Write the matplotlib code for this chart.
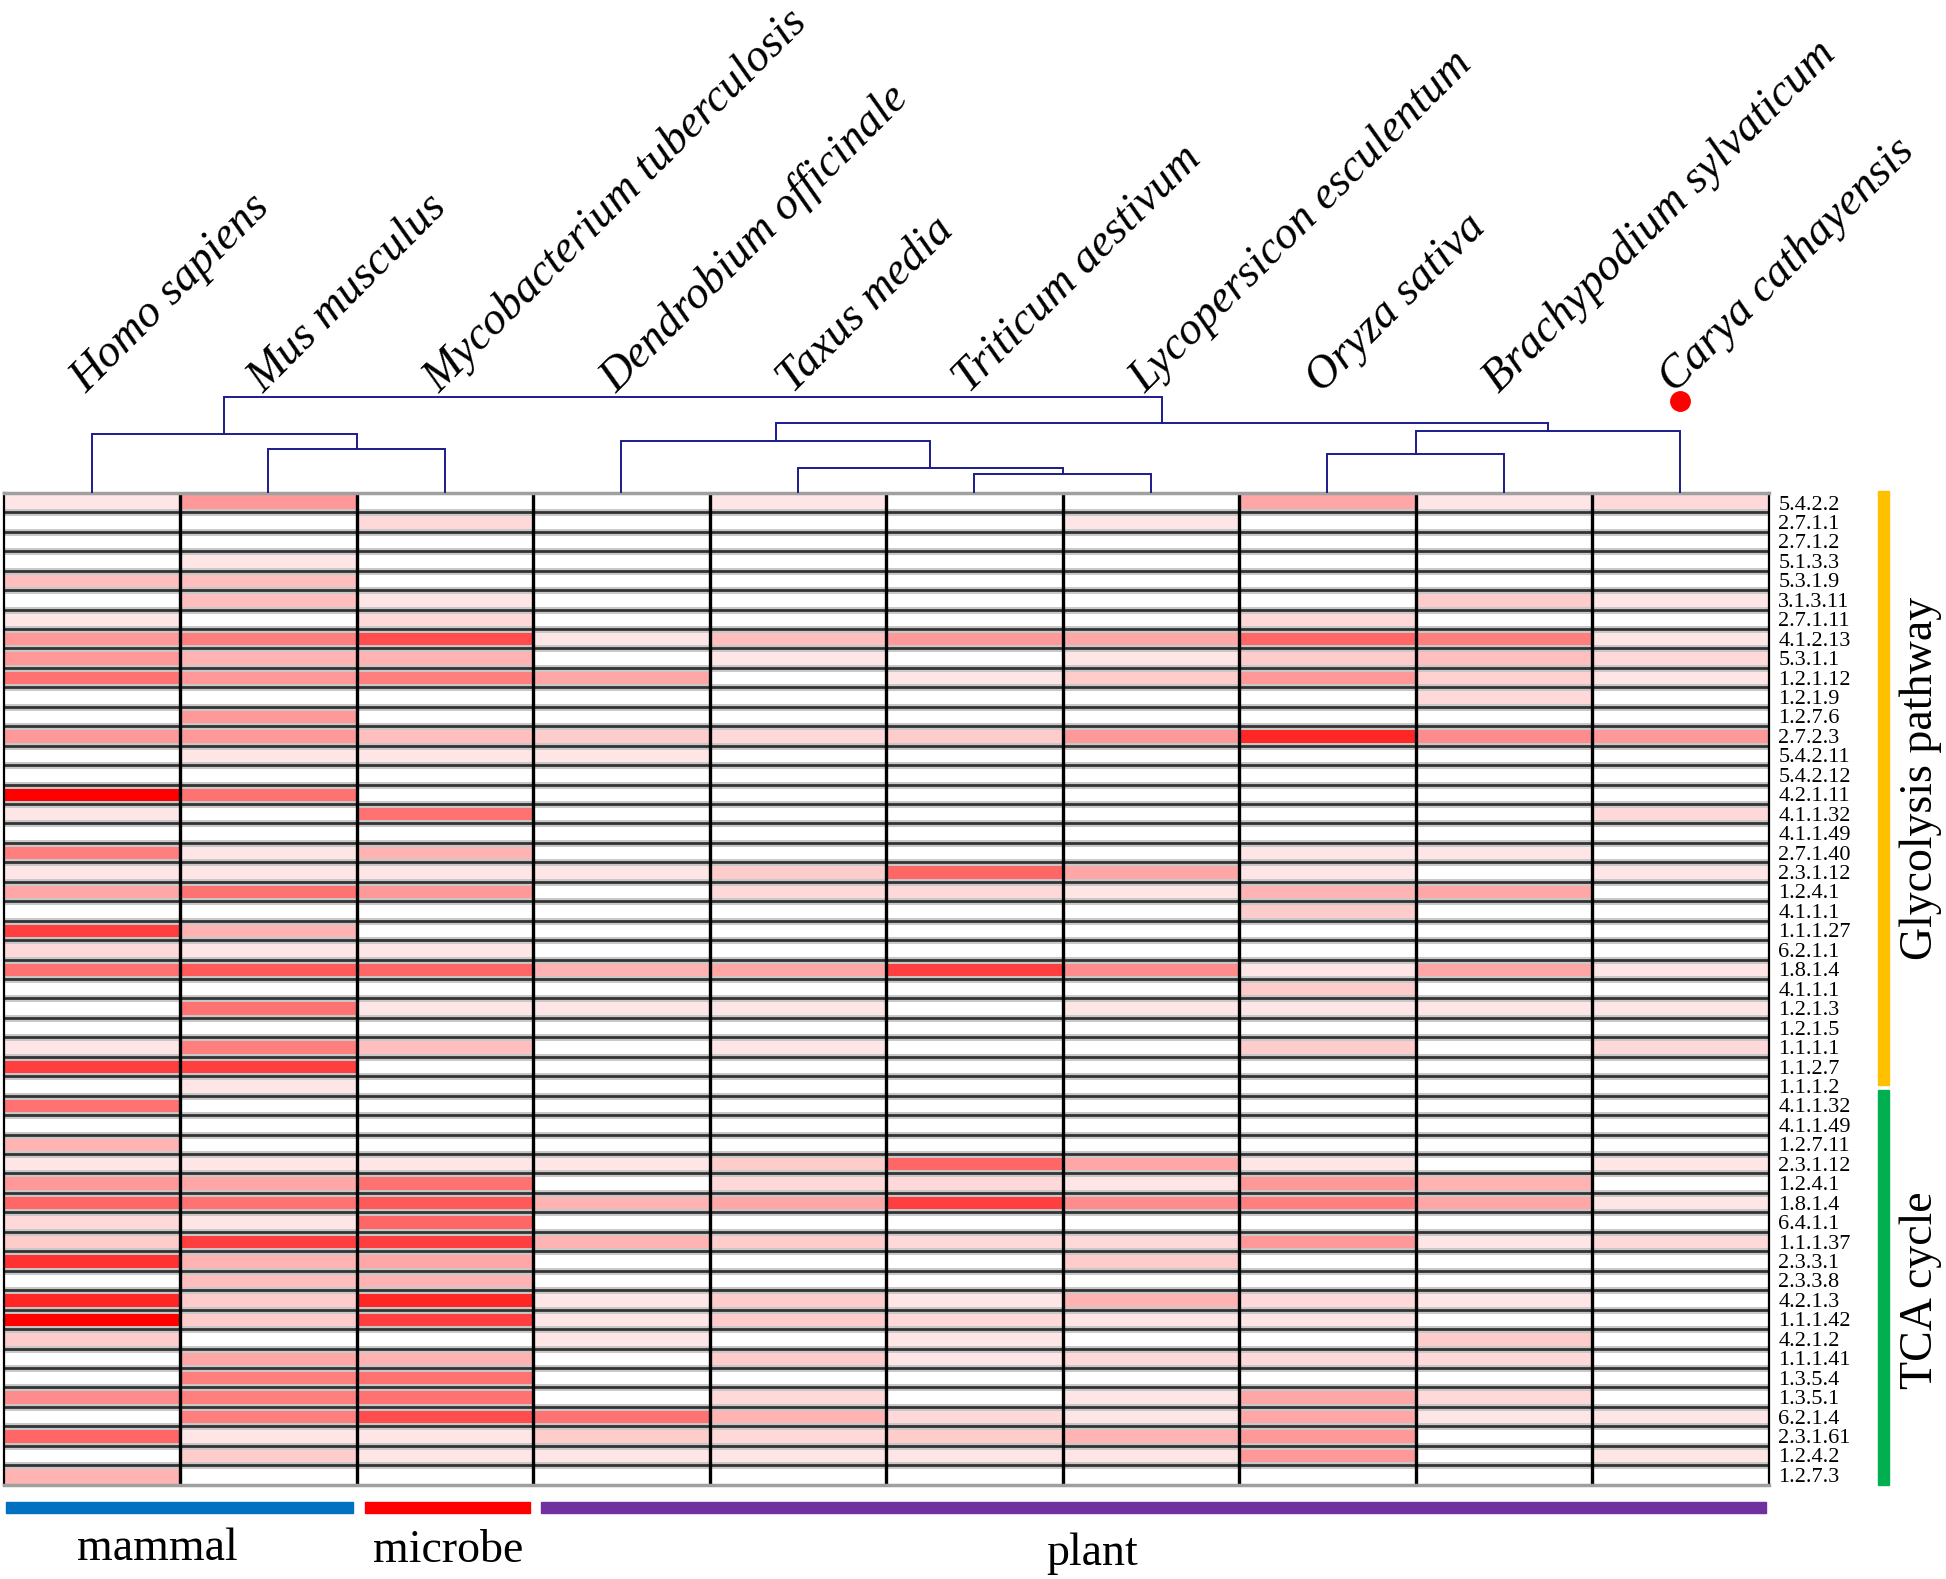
import numpy as np
import matplotlib.pyplot as plt
from matplotlib.colors import LinearSegmentedColormap
from matplotlib.patches import Rectangle

species = ['Homo sapiens', 'Mus musculus', 'Mycobacterium tuberculosis',
           'Dendrobium officinale', 'Taxus media', 'Triticum aestivum',
           'Lycopersicon esculentum', 'Oryza sativa', 'Brachypodium sylvaticum',
           'Carya cathayensis']

glycolysis_ec = ['5.4.2.2', '2.7.1.1', '2.7.1.2', '5.1.3.3', '5.3.1.9', '3.1.3.11',
                 '2.7.1.11', '4.1.2.13', '5.3.1.1', '1.2.1.12', '1.2.1.9', '1.2.7.6',
                 '2.7.2.3', '5.4.2.11', '5.4.2.12', '4.2.1.11', '4.1.1.32', '4.1.1.49',
                 '2.7.1.40', '2.3.1.12', '1.2.4.1', '4.1.1.1', '1.1.1.27', '6.2.1.1',
                 '1.8.1.4', '4.1.1.1', '1.2.1.3', '1.2.1.5', '1.1.1.1', '1.1.2.7',
                 '1.1.1.2']
tca_ec = ['4.1.1.32', '4.1.1.49', '1.2.7.11', '2.3.1.12', '1.2.4.1', '1.8.1.4',
          '6.4.1.1', '1.1.1.37', '2.3.3.1', '2.3.3.8', '4.2.1.3', '1.1.1.42',
          '4.2.1.2', '1.1.1.41', '1.3.5.4', '1.3.5.1', '6.2.1.4', '2.3.1.61',
          '1.2.4.2', '1.2.7.3']

# relative intensity 0 (white) .. 10 (red), columns follow `species`
glycolysis_vals = [
    [1, 4, 0, 0, 1, 0, 0, 3.5, 1, 1.5],
    [0, 0, 1.5, 0, 0, 0, 1, 0, 0, 0],
    [0, 0, 0, 0, 0, 0, 0, 0, 0, 0],
    [0, 1, 0, 0, 0, 0, 0, 0, 0, 0],
    [2.5, 2.5, 0, 0, 0, 0, 0, 0, 0, 0],
    [0, 2.5, 1, 0, 0, 0, 0, 0, 2, 1],
    [1, 0, 1.5, 0, 0, 0, 0, 1.5, 0, 0],
    [4, 5, 7, 1, 2.5, 4, 3.5, 6, 5, 1],
    [4, 3, 3, 0, 1, 0, 1, 2, 2.5, 1.5],
    [5.5, 4, 5, 3.5, 0, 1, 2, 4, 1.8, 1],
    [0, 0, 0, 0, 0, 0, 0, 0, 1.5, 0],
    [0, 4, 0, 0, 0, 0, 0, 0, 0, 0],
    [4, 4, 2.5, 2, 1.5, 2, 4, 8.5, 4.5, 4],
    [0, 1, 1, 1, 0, 0, 0, 0, 0, 0],
    [0, 0, 0, 0, 0, 0, 0, 0, 0, 0],
    [10, 5.5, 0, 0, 0, 0, 0, 0, 0, 0],
    [1, 0, 5.5, 0, 0, 0, 0, 0, 0, 1.5],
    [0, 0, 0, 0, 0, 0, 0, 0, 0, 0],
    [5, 1, 3, 0, 0, 0, 0, 1, 1, 0],
    [1, 1, 1, 1, 2, 6, 3.5, 1, 0, 1],
    [3.5, 5.5, 4, 0, 1.5, 1.5, 1, 3, 3.5, 0],
    [0, 0, 0, 0, 0, 0, 0, 2, 0, 0],
    [7.5, 3, 0, 0, 0, 0, 0, 0, 0, 0],
    [1.5, 1, 1, 0, 0, 0, 0, 0, 0, 0],
    [5.5, 6.5, 6, 3, 3.5, 7.5, 4.5, 1, 3.5, 1],
    [0, 0, 0, 0, 0, 0, 0, 2, 0, 0],
    [0, 5.5, 1, 1, 1, 0, 1, 1, 1, 1],
    [0, 0, 0, 0, 0, 0, 0, 0, 0, 0],
    [1, 5, 2.5, 0, 1, 0, 0, 2, 0, 1.5],
    [7.5, 7.5, 0, 0, 0, 0, 0, 0, 0, 0],
    [0, 1, 0, 0, 0, 0, 0, 0, 0, 0],
]
tca_vals = [
    [5.5, 0, 0, 0, 0, 0, 0, 0, 0, 0],
    [0, 0, 0, 0, 0, 0, 0, 0, 0, 0],
    [3, 0, 0, 0, 0, 0, 0, 0, 0, 0],
    [1, 1, 1, 1, 2, 6, 3.5, 1, 0, 1],
    [4, 3.5, 5.5, 0, 1.5, 1.5, 1, 4, 3, 0],
    [6, 5.5, 6.5, 3, 3.5, 7.5, 4.5, 5, 3.5, 1],
    [1.5, 1, 6, 0, 0, 0, 0, 0, 0, 0],
    [2, 7.5, 7.5, 3, 2, 1.5, 1.5, 4, 1, 1.5],
    [8, 3, 3.5, 0, 0, 0, 2, 0, 0, 0],
    [0, 2.5, 3, 0, 0, 0, 0, 0, 0, 0],
    [8.5, 2, 8.5, 1, 2, 1, 3, 1.5, 1, 0],
    [10, 2, 7.5, 1, 2, 1.5, 1, 1, 0, 0],
    [2, 0, 0, 1, 0, 1, 0, 0, 2, 0],
    [0, 3.5, 3, 0, 2, 1, 1.5, 1.5, 1.5, 0],
    [0, 5, 5.5, 0, 0, 0, 0, 0, 0, 0],
    [4.5, 5, 5.5, 0, 1.5, 0, 1, 3.5, 1.5, 0],
    [0, 5, 7, 5.5, 3, 1.5, 1, 3.5, 1, 1],
    [6, 1, 1, 2, 1.5, 2, 3, 4, 0, 0],
    [0, 2, 1, 1, 1, 1, 1, 4, 0, 1],
    [3, 0, 0, 0, 0, 0, 0, 0, 0, 0],
]

# column dendrogram: (left id, right id, height); merged clusters get ids 10, 11, ...
merges = [(1, 2, 35), (0, 10, 47), (5, 6, 15), (4, 12, 20), (3, 13, 42),
          (7, 8, 31), (15, 9, 50), (14, 16, 56), (11, 17, 77)]

groups = ['mammal', 'microbe', 'plant']
group_cols = [(0, 2), (2, 3), (3, 10)]
group_colors = ['#0070C0', '#FF0000', '#7030A0']
pathways = ['Glycolysis pathway', 'TCA cycle']
pathway_colors = ['#FFC000', '#00B050']

SERIF = 'Liberation Serif'
W, H = 1568.0, 1272.0  # layout measured on a 1568x1272 view

vals = np.array(glycolysis_vals + tca_vals, dtype=float)
labels = glycolysis_ec + tca_ec
nrow, ncol = vals.shape

fig = plt.figure(figsize=(19.46, 15.79), dpi=100)
ax = fig.add_axes([3 / W, 1 - 1196 / H, 1422 / W, 799 / H])
cmap = LinearSegmentedColormap.from_list('wr', ['#FFFFFF', '#FF0000'])
ax.imshow(vals, cmap=cmap, vmin=0, vmax=10, aspect='auto',
          extent=(0, ncol, nrow, 0), interpolation='nearest')
for y in range(1, nrow):
    ax.axhline(y, color='#c8c8c8', lw=5, zorder=2)
    ax.axhline(y, color='#333333', lw=2, zorder=3)
for x in range(1, ncol):
    ax.axvline(x, color='black', lw=2.4, zorder=4)
for side, s in ax.spines.items():
    s.set_color('black' if side in ('left', 'right') else '#a0a0a0')
    s.set_linewidth(1.6 if side in ('left', 'right') else 2.5)
    s.set_zorder(5)
ax.set_xticks([])
ax.yaxis.tick_right()
ax.set_yticks(np.arange(nrow) + 0.5)
ax.set_yticklabels(labels, family=SERIF, fontsize=16)
ax.tick_params(axis='y', length=0, pad=7)
ax.set_xlim(0, ncol)
ax.set_ylim(nrow, 0)

# pathway bars on the right
ytr = ax.get_yaxis_transform()
start = 0
for name, n, c, off in zip(pathways, [len(glycolysis_ec), len(tca_ec)], pathway_colors, [-0.8, 0]):
    y0 = start - 0.1 if start == 0 else start - 0.3
    y1 = start + n - 0.55 if start == 0 else start + n
    ax.add_patch(Rectangle((1.0620, y0), 0.0065, y1 - y0, transform=ytr,
                           color=c, clip_on=False))
    ax.text(1.0865, start + n / 2 + off, name, transform=ytr, rotation=90,
            ha='center', va='center', family=SERIF, fontsize=33)
    start += n

# group bars below
xtr = ax.get_xaxis_transform()
label_x = [0.87, 2.52, 6.17]
label_y = [-0.0763, -0.0776, -0.0813]
for name, (c0, c1), c, lx, ly in zip(groups, group_cols, group_colors, label_x, label_y):
    g0 = c0 + (0.014 if c0 == 0 else 0.045)
    g1 = c1 - (0.014 if c1 == ncol else 0.02)
    ax.add_patch(Rectangle((g0, -0.0288), g1 - g0, 0.0113, transform=xtr,
                           color=c, clip_on=False))
    ax.text(lx, ly, name, transform=xtr, ha='center', va='baseline',
            family=SERIF, fontsize=33)

# dendrogram
axd = fig.add_axes([3 / W, 1 - 397 / H, 1422 / W, 97 / H])
axd.set_xlim(0, ncol)
axd.set_ylim(0, 97)
axd.axis('off')
pos = {i: (i + 0.5, 0.0) for i in range(ncol)}
for k, (a, b, h) in enumerate(merges):
    xa, ha = pos[a]
    xb, hb = pos[b]
    axd.plot([xa, xa, xb, xb], [ha, h, h, hb], color='#1c1c8c', lw=1.4,
             solid_joinstyle='miter')
    pos[ncol + k] = ((xa + xb) / 2, h)

for i, name in enumerate(species):
    axd.text(i + 0.47, 80, name, rotation=45, rotation_mode='anchor',
             ha='left', va='baseline', family=SERIF, style='italic',
             fontsize=33, clip_on=False)
axd.plot(ncol - 0.5, 74, 'o', color='#FF0000', ms=14, clip_on=False)

fig.savefig('out.png', dpi=100)
